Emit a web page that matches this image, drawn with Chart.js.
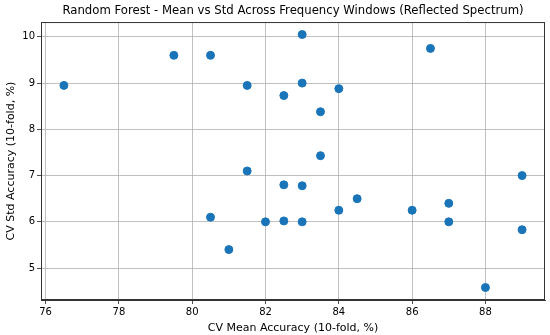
<!DOCTYPE html>
<html>
<head>
<meta charset="utf-8">
<script src="https://cdn.jsdelivr.net/npm/chart.js@4.4.0/dist/chart.umd.min.js"></script>
<style>
  html, body { margin: 0; padding: 0; background: #fff; }
  #wrap { width: 550px; height: 335px; }
</style>
</head>
<body>
<div id="wrap"><canvas id="chart"></canvas></div>
<script>
// CV mean accuracy (x) and CV std accuracy (y) per frequency window
var meanAcc = [76.5, 79.5, 80.5, 81.5, 82.5, 83, 83, 83.5, 84, 86.5,
               81.5, 82.5, 83, 83.5, 80.5, 81, 82, 82.5, 83, 84,
               84.5, 86, 87, 87, 89, 89, 88];
var stdAcc = [8.95, 9.6, 9.6, 8.95, 8.73, 10.05, 9.0, 8.38, 8.88, 9.75,
              7.1, 6.8, 6.78, 7.43, 6.1, 5.4, 6.0, 6.02, 6.0, 6.25,
              6.5, 6.25, 6.4, 6.0, 7.0, 5.83, 4.58];
var xTicks = [76, 78, 80, 82, 84, 86, 88];
var yTicks = [5, 6, 7, 8, 9, 10];

var points = meanAcc.map(function (m, i) { return { x: m, y: stdAcc[i] }; });
var font = 'DejaVu Sans';

function fixTicks(list) {
  return function (scale) {
    scale.ticks = list.map(function (v) { return { value: v }; });
  };
}

new Chart(document.getElementById('chart'), {
  type: 'scatter',
  data: {
    datasets: [{
      data: points,
      backgroundColor: '#1a75b8',
      borderColor: '#1a75b8',
      pointRadius: 4,
      pointHoverRadius: 4
    }]
  },
  options: {
    responsive: true,
    maintainAspectRatio: false,
    animation: false,
    layout: { padding: { left: 0, right: 3, top: 0, bottom: 0 } },
    plugins: {
      legend: { display: false },
      tooltip: { enabled: false },
      title: {
        display: true,
        fullSize: false,
        text: 'Random Forest - Mean vs Std Across Frequency Windows (Reflected Spectrum)',
        color: '#000',
        font: { family: font, size: 11.7, weight: 'normal' },
        padding: { top: 4, bottom: 4 }
      }
    },
    scales: {
      x: {
        type: 'linear',
        min: 75.875,
        max: 89.625,
        afterBuildTicks: fixTicks(xTicks),
        afterFit: function (s) { s.height = 35; },
        grid: { color: '#b0b0b0', lineWidth: 0.8, tickLength: 4, tickColor: '#222' },
        border: { color: '#333', width: 1 },
        ticks: { color: '#000', font: { family: font, size: 10 }, padding: 2, maxRotation: 0 },
        title: {
          display: true,
          text: 'CV Mean Accuracy (10-fold, %)',
          color: '#000',
          font: { family: font, size: 11 },
          padding: { top: 0, bottom: 0 }
        }
      },
      y: {
        type: 'linear',
        min: 4.31,
        max: 10.32,
        afterBuildTicks: fixTicks(yTicks),
        afterFit: function (s) { s.width = 41; },
        grid: { color: '#b0b0b0', lineWidth: 0.8, tickLength: 4, tickColor: '#222' },
        border: { color: '#333', width: 1 },
        ticks: { color: '#000', font: { family: font, size: 10 }, padding: 2 },
        title: {
          display: true,
          text: 'CV Std Accuracy (10-fold, %)',
          color: '#000',
          font: { family: font, size: 11 },
          padding: { top: 5, bottom: 0 }
        }
      }
    }
  },
  plugins: [{
    id: 'frame',
    afterDraw: function (chart) {
      var a = chart.chartArea, ctx = chart.ctx;
      ctx.save();
      ctx.strokeStyle = '#333';
      ctx.lineWidth = 1;
      ctx.strokeRect(a.left + 0.5, a.top + 0.5, a.right - a.left - 1, a.bottom - a.top - 1);
      ctx.restore();
    }
  }]
});
</script>
</body>
</html>
